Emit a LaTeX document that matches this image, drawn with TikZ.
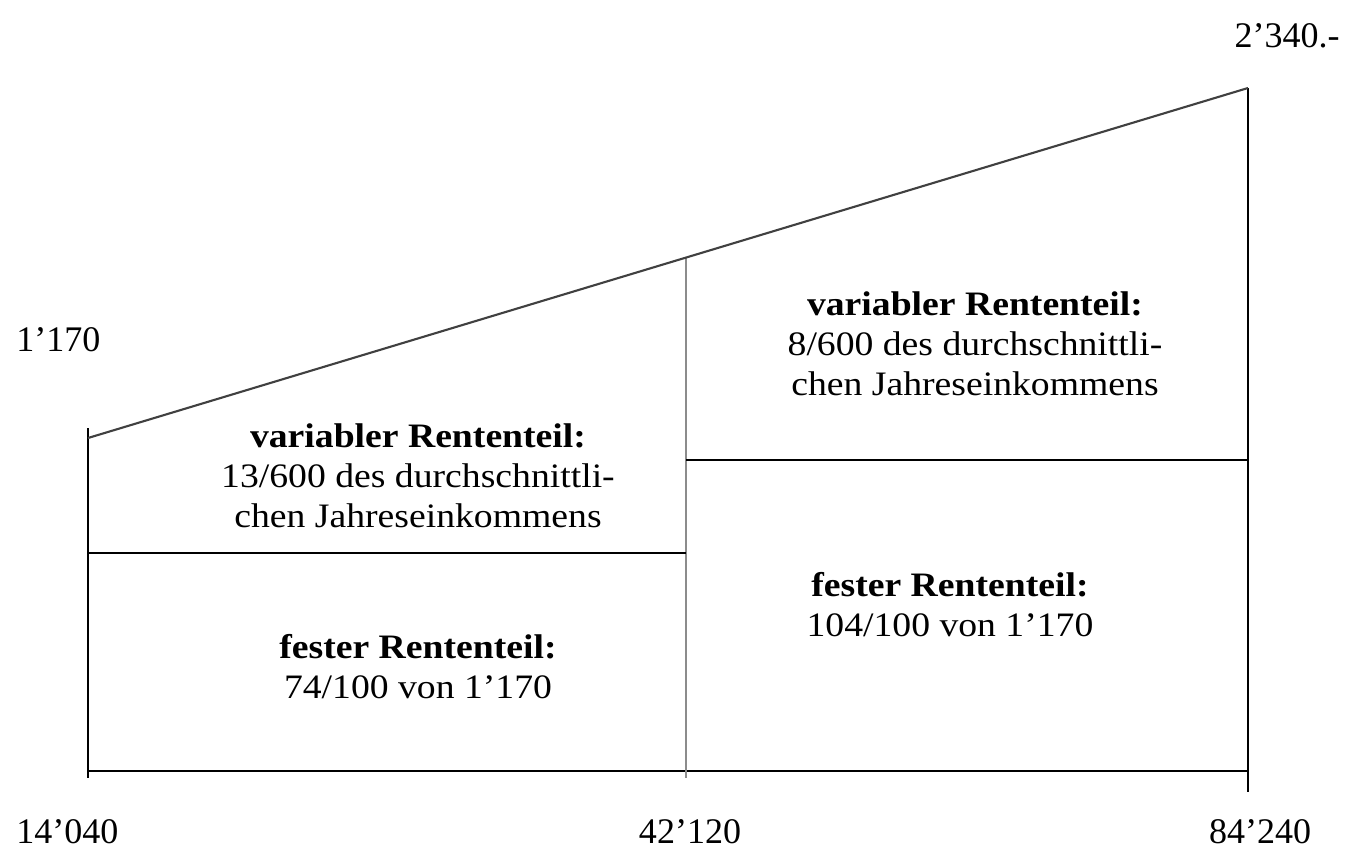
\documentclass[tikz,border=0pt]{standalone}
\usepackage{fontspec}
\setmainfont{Liberation Serif}
% slightly widened face for the part descriptions
\newfontfamily\widefont[FakeStretch=1.1,Ligatures=TeX]{Liberation Serif}
\begin{document}
\begin{tikzpicture}[x=0.02cm,y=-0.02cm,
  axisline/.style={line width=1.4pt, black},
  slopeline/.style={line width=1.2pt, black!75},
  splitline/.style={line width=1.4pt, black!45},
  blocktext/.style={align=center, inner sep=0pt, font=\widefont\fontsize{19.5pt}{22.8pt}\selectfont},
  numlabel/.style={inner sep=0pt, font=\fontsize{20.5pt}{24pt}\selectfont}
]
\useasboundingbox (0,0) rectangle (1354,852);

% corner points of the two income ranges
\coordinate (Ltop) at (88,428);
\coordinate (Lslope) at (88,438);
\coordinate (Ldiv) at (88,553);
\coordinate (Lbase) at (88,771);
\coordinate (Ltick) at (88,778);
\coordinate (Mtop) at (686,258);
\coordinate (Mdiv) at (686,460);
\coordinate (Mldiv) at (686,553);
\coordinate (Mbase) at (686,771);
\coordinate (Mtick) at (686,778);
\coordinate (Rtop) at (1248,88);
\coordinate (Rdiv) at (1248,460);
\coordinate (Rbase) at (1248,771);
\coordinate (Rtick) at (1248,792);

% axis and outer verticals
\draw[axisline] (Lbase) -- (Rbase);
\draw[axisline] (Ltop) -- (Ltick);
\draw[axisline] (Rtop) -- (Rtick);
% border between the two ranges
\draw[splitline] (Mtop) -- (Mtick);
% fixed / variable part dividers
\draw[axisline] (Ldiv) -- (Mldiv);
\draw[axisline] (Mdiv) -- (Rdiv);
% rising pension line
\draw[slopeline] (Lslope) -- (Rtop);

% value labels
\node[numlabel, anchor=west] (v1170) at (16,340) {1'170};
\node[numlabel, anchor=east] (v2340) at (1340,36) {2'340.-};
\node[numlabel, anchor=west] (x14040) at (16,832) {14'040};
\node[numlabel] (x42120) at (690,832) {42'120};
\node[numlabel] (x84240) at (1260,832) {84'240};

% part descriptions
\node[blocktext] (varL) at (418,476)
  {\textbf{variabler Rententeil:}\\13/600 des durchschnittli-\\chen Jahreseinkommens};
\node[blocktext] (varR) at (975,344)
  {\textbf{variabler Rententeil:}\\8/600 des durchschnittli-\\chen Jahreseinkommens};
\node[blocktext] (fixL) at (418,667)
  {\textbf{fester Rententeil:}\\74/100 von 1'170};
\node[blocktext] (fixR) at (950,605)
  {\textbf{fester Rententeil:}\\104/100 von 1'170};
\end{tikzpicture}
\end{document}
